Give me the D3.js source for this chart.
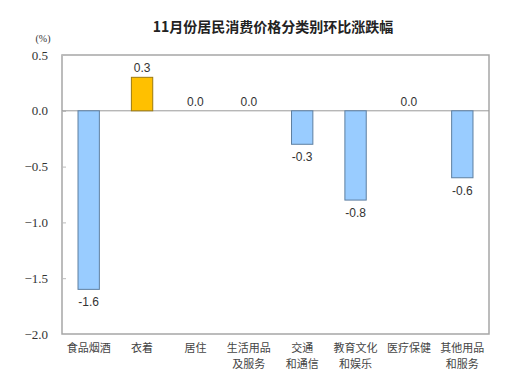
<!DOCTYPE html>
<html lang="zh">
<head>
  <meta charset="UTF-8">
  <title>11月份居民消费价格分类别环比涨跌幅</title>
  <script src="https://d3js.org/d3.v7.min.js"></script>
  <style>
    body { margin: 0; background: #fff; }
    svg { display: block; }
    .cat { font-family: "Noto Sans CJK SC", sans-serif; font-size: 11px; fill: #444; }
    .ytick { font-family: "Liberation Serif", "DejaVu Serif", serif !important; font-size: 13px; fill: #333; }
    .val { font-family: "Liberation Sans", Arial, sans-serif; font-size: 12px; fill: #333; }
  </style>
</head>
<body>
<div id="chart"></div>
<script>
  // data
  const categories = [["食品烟酒"], ["衣着"], ["居住"], ["生活用品", "及服务"], ["交通", "和通信"], ["教育文化", "和娱乐"], ["医疗保健"], ["其他用品", "和服务"]];
  const values = [-1.6, 0.3, 0.0, 0.0, -0.3, -0.8, 0.0, -0.6];
  const yTicks = [0.5, 0.0, -0.5, -1.0, -1.5, -2.0];

  const W = 530, H = 388;
  const m = { top: 55, right: 41, bottom: 54, left: 62 };

  const svg = d3.select("#chart").append("svg")
    .attr("width", W).attr("height", H);

  const x = d3.scaleBand()
    .domain(d3.range(categories.length))
    .range([m.left, W - m.right])
    .paddingInner(0.6).paddingOuter(0.3);

  const y = d3.scaleLinear()
    .domain([-2.0, 0.5])
    .range([H - m.bottom, m.top]);

  // title
  svg.append("text")
    .attr("x", 273).attr("y", 32)
    .attr("text-anchor", "middle")
    .style("font-family", "'Noto Sans CJK SC', sans-serif")
    .style("font-size", "14px")
    .style("font-weight", "bold")
    .style("fill", "#222")
    .text("11月份居民消费价格分类别环比涨跌幅");

  svg.append("text")
    .attr("class", "ytick")
    .attr("x", 43).attr("y", 42)
    .attr("text-anchor", "middle")
    .style("font-size", "10px")
    .text("(%)");

  // plot frame
  svg.append("rect")
    .attr("x", m.left).attr("y", m.top)
    .attr("width", W - m.right - m.left)
    .attr("height", H - m.bottom - m.top)
    .attr("fill", "none").attr("stroke", "#a6a6a6").attr("stroke-width", 1.5);

  // y axis
  const yAxis = svg.append("g")
    .attr("transform", `translate(${m.left},0)`)
    .attr("font-family", null).attr("font-size", null)
    .call(d3.axisLeft(y).tickValues(yTicks).tickSize(-4).tickPadding(14).tickFormat(d3.format(".1f")));
  yAxis.attr("font-family", null).attr("font-size", null);
  yAxis.select(".domain").remove();
  yAxis.selectAll("line").attr("stroke", "#bbb");
  yAxis.selectAll("text").attr("class", "ytick").attr("fill", null);

  // zero line
  svg.append("line")
    .attr("x1", m.left).attr("x2", W - m.right)
    .attr("y1", y(0)).attr("y2", y(0))
    .attr("stroke", "#999").attr("stroke-width", 1);

  // bars
  svg.append("g").selectAll("rect")
    .data(values)
    .join("rect")
    .attr("x", (d, i) => x(i))
    .attr("width", x.bandwidth())
    .attr("y", d => y(Math.max(0, d)))
    .attr("height", d => Math.abs(y(d) - y(0)))
    .attr("fill", d => d > 0 ? "#ffc000" : "#99ccff")
    .attr("stroke", d => d > 0 ? "#9c7a10" : "#5e7fa0")
    .attr("stroke-width", 1);

  // value labels
  svg.append("g").selectAll("text")
    .data(values)
    .join("text")
    .attr("class", "val")
    .attr("x", (d, i) => x(i) + x.bandwidth() / 2)
    .attr("y", d => d < 0 ? y(d) + 17 : y(d) - 5)
    .attr("text-anchor", "middle")
    .text(d => d.toFixed(1));

  // category labels
  const cat = svg.append("g").selectAll("text")
    .data(categories)
    .join("text")
    .attr("class", "cat")
    .attr("text-anchor", "middle")
    .attr("x", (d, i) => x(i) + x.bandwidth() / 2)
    .attr("y", H - m.bottom + 18);
  cat.selectAll("tspan")
    .data(d => d)
    .join("tspan")
    .attr("x", function () { return this.parentNode.getAttribute("x"); })
    .attr("dy", (d, i) => i ? 16 : 0)
    .text(d => d);
</script>
</body>
</html>
